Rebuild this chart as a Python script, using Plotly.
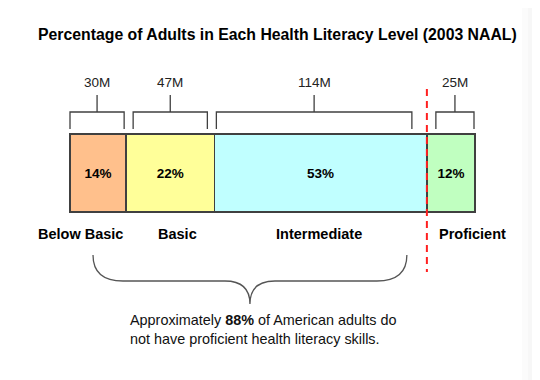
import plotly.graph_objects as go
import numpy as np

# ---- data ----
levels = ["Below Basic", "Basic", "Intermediate", "Proficient"]
percents = [14, 22, 53, 12]
millions = ["30M", "47M", "114M", "25M"]
not_proficient_pct = 88
title = "Percentage of Adults in Each Health Literacy Level (2003 NAAL)"

# ---- style ----
colors = ["#FFC08C", "#FFFF99", "#C0FFFF", "#C0FFC0"]
W, H = 540, 380
PAGE_OFF = 8                     # default body margin of the html page
X0_PX, X1_PX = 70, 475           # bar extent in pixels
S = (X1_PX - X0_PX) / sum(percents)  # pixels per percent
BAR_Y, BAR_H = 173, 78
br_inset_l = [0, 7, 2, 9]        # bracket insets (px)
br_inset_r = [2, 7, 15, 1]
label_shift = [-18, 7, -2, 22]   # category label offsets (px)
FONT = "Liberation Sans, Arial"

def d(px):  # pixel offset -> data units
    return px / S

fig = go.Figure()
for lv, p, c in zip(levels, percents, colors):
    fig.add_trace(go.Bar(
        x=[p], y=[BAR_Y], orientation="h", width=BAR_H,
        marker=dict(color=c, line=dict(color="#404040", width=1.5)),
        text=[f"<b>{p}%</b>"], textposition="inside", insidetextanchor="middle",
        textfont=dict(family=FONT, size=13.5, color="black"),
        hoverinfo="skip", showlegend=False, name=lv))

starts = np.concatenate([[0], np.cumsum(percents)[:-1]])
ends = np.cumsum(percents)
centers = (starts + ends) / 2

shapes = []
annotations = []
line_col = "#404040"
for i in range(len(levels)):
    l = starts[i] + d(br_inset_l[i])
    r = ends[i] - d(br_inset_r[i])
    m = (l + r) / 2
    path = f"M {l},129 L {l},112 L {r},112 L {r},129 M {m},112 L {m},95"
    shapes.append(dict(type="path", path=path, xref="x", yref="y",
                       line=dict(color=line_col, width=1.3)))
    annotations.append(dict(x=m, y=82, xref="x", yref="y", text=millions[i],
                            showarrow=False,
                            font=dict(family=FONT, size=13.5, color="#222")))
    annotations.append(dict(x=centers[i] + d(label_shift[i]), y=234, xref="x", yref="y",
                            text=f"<b>{levels[i]}</b>", showarrow=False,
                            font=dict(family=FONT, size=14.5, color="black")))

# red dashed divider at start of Proficient
split = starts[-1]
shapes.append(dict(type="line", x0=split, x1=split, y0=89, y1=272, xref="x", yref="y",
                   line=dict(color="#FF2020", width=2, dash="7px,5px")))

# curly brace spanning non-proficient levels
bl = 0 + d(23)
br = split - d(20)
bm = (bl + br) / 2
k = d(30)
brace = (f"M {bl},255 Q {bl},281 {bl+k},281 L {bm-d(25)},281 "
         f"Q {bm},281 {bm},304 Q {bm},281 {bm+d(25)},281 "
         f"L {br-k},281 Q {br},281 {br},255")
shapes.append(dict(type="path", path=brace, xref="x", yref="y",
                   line=dict(color="#555555", width=1.3)))

annotations.append(dict(x=d(128 - X0_PX), y=329, xref="x", yref="y", xanchor="left",
                        align="left", showarrow=False,
                        text=f"Approximately <b>{not_proficient_pct}%</b> of American adults do<br>"
                             "not have proficient health literacy skills.",
                        font=dict(family=FONT, size=14.4, color="#111")))

annotations.append(dict(x=d(277.5 - X0_PX), y=34, xref="x", yref="y", showarrow=False,
                        text=f"<b>{title}</b>",
                        font=dict(family=FONT, size=15.8, color="black")))

# faint right-edge shadow
for j, g in enumerate(["#FBFBFB", "#F7F7F7", "#F3F3F3"]):
    shapes.append(dict(type="rect", xref="x", yref="y",
                       x0=d(522 + j * 6 - X0_PX), x1=d(W - X0_PX),
                       y0=0, y1=H, fillcolor=g, line=dict(width=0), layer="below"))

fig.update_layout(
    width=W - PAGE_OFF, height=H - PAGE_OFF, barmode="stack",
    margin=dict(l=0, r=0, t=0, b=0),
    paper_bgcolor="white", plot_bgcolor="white",
    xaxis=dict(range=[d(PAGE_OFF - X0_PX), d(W - X0_PX)], visible=False, fixedrange=True),
    yaxis=dict(range=[H, PAGE_OFF], visible=False, fixedrange=True),
    shapes=shapes, annotations=annotations, uniformtext=dict(mode=False),
)
fig.write_html("out.html")
